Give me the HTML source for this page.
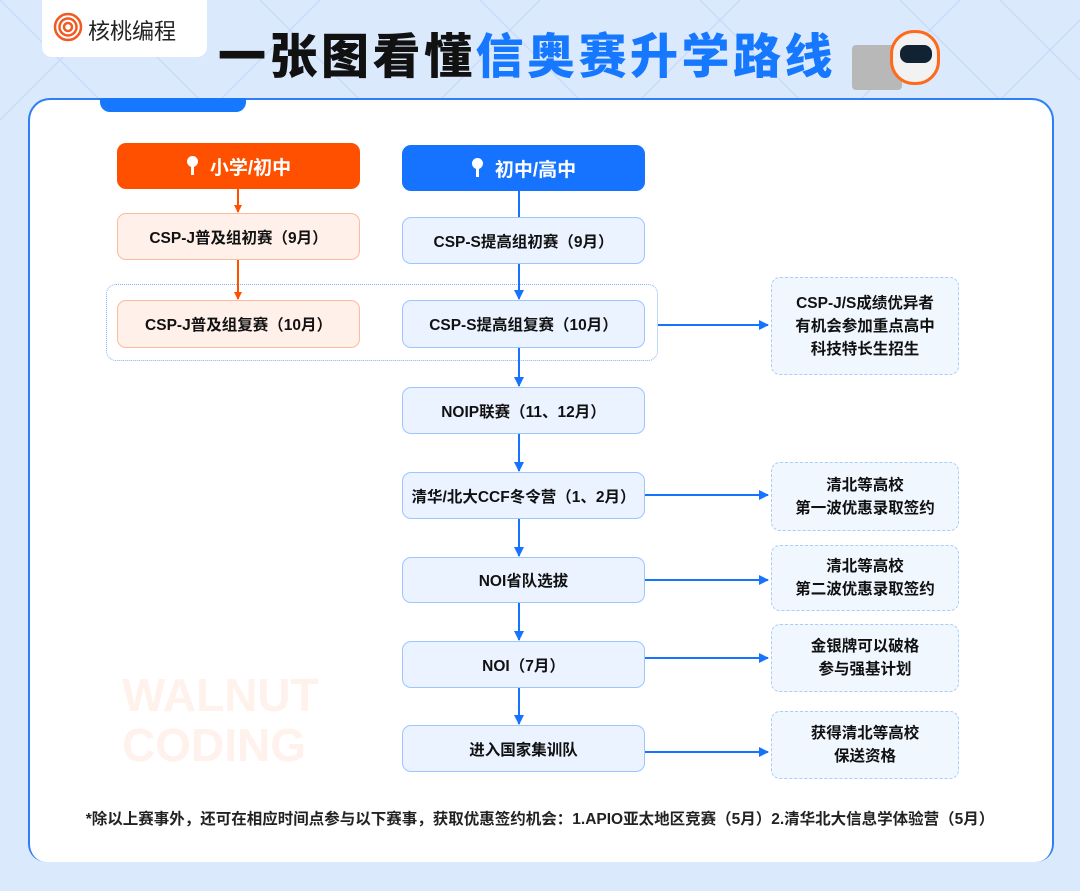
<!DOCTYPE html>
<html><head><meta charset="utf-8"><style>
*{margin:0;padding:0;box-sizing:border-box}
body{width:1080px;height:891px;background:#dbe9fd;position:relative;overflow:hidden;font-family:"Liberation Sans","Noto Sans CJK SC",sans-serif}
.a{position:absolute}
.box{position:absolute;display:flex;align-items:center;justify-content:center;text-align:center;font-weight:bold;font-size:15.5px;color:#111;border-radius:9px}
.o{background:#fff0ea;border:1.5px solid #ffb99c}
.b{background:#eaf3ff;border:1.5px solid #9cc6ff}
.r{background:#f1f7ff;border:1.5px dashed #a9cdf8;line-height:23px}
.hd{position:absolute;display:flex;align-items:center;justify-content:center;color:#fff;font-weight:bold;font-size:19px;border-radius:9px}
.pin{display:inline-block;width:12px;height:20px;margin-right:12px;position:relative}
.pin:before{content:"";position:absolute;left:1px;top:0;width:11px;height:11px;border-radius:50%;background:#fff}
.pin:after{content:"";position:absolute;left:5px;top:10px;width:3px;height:9px;background:#fff}
</style></head><body>
<svg class="a" style="left:0;top:0" width="1080" height="891">
<g stroke="#c9dcf7" stroke-width="1.5" fill="none">
<path d="M0 0L120 120M100 0L220 120M260 0L380 120M480 0L600 120M700 0L820 120M900 0L1020 120M1000 0L1080 80M0 120L120 0M200 120L320 0M420 120L540 0M620 120L740 0M840 120L960 0M980 120L1080 20"/>
</g></svg>
<div class="a" style="left:42px;top:0;width:165px;height:57px;background:#fff;border-radius:0 0 10px 10px"></div>
<svg class="a" style="left:53px;top:12px" width="30" height="30"><g fill="none" stroke="#f15a22" stroke-width="2.5"><circle cx="15" cy="15" r="13"/><circle cx="15" cy="15" r="8.5"/><circle cx="15" cy="15" r="4"/></g></svg>
<div class="a" style="left:88px;top:14px;font-size:22px;color:#222">核桃编程</div>
<div class="a" style="left:218px;top:28px;font-size:48px;font-weight:900;letter-spacing:3.5px;color:#111;line-height:60px;white-space:nowrap">一张图看懂<span style="color:#1677ff">信奥赛升学路线</span></div>
<div class="a" style="left:852px;top:45px;width:50px;height:45px;background:#b8b8b8;border-radius:4px"></div>
<div class="a" style="left:890px;top:30px;width:50px;height:55px;background:#f2f2f2;border-radius:24px;border:3px solid #ff6a1a"></div>
<div class="a" style="left:900px;top:45px;width:32px;height:18px;background:#123;border-radius:8px"></div>
<div class="a" style="left:28px;top:98px;width:1026px;height:764px;background:#fff;border:2px solid #2e7ff5;border-bottom:none;border-radius:22px 22px 18px 18px"></div>
<div class="a" style="left:100px;top:98px;width:146px;height:14px;background:#1677ff;border-radius:0 0 10px 10px"></div>
<div class="a" style="left:122px;top:670px;font-size:46px;font-weight:900;color:#fff1ec;line-height:50px">WALNUT<br>CODING</div>
<div class="a" style="left:106px;top:284px;width:552px;height:77px;border:1.5px dotted #7fb3f5;border-radius:10px"></div>
<div class="hd" style="left:117px;top:143px;width:243px;height:46px;background:#ff5000"><span class="pin"></span>小学/初中</div>
<div class="hd" style="left:402px;top:145px;width:243px;height:46px;background:#1673ff"><span class="pin"></span>初中/高中</div>
<div class="box o" style="left:117px;top:213px;width:243px;height:47px">CSP-J普及组初赛（9月）</div>
<div class="box o" style="left:117px;top:300px;width:243px;height:48px">CSP-J普及组复赛（10月）</div>
<div class="box b" style="left:402px;top:217px;width:243px;height:47px">CSP-S提高组初赛（9月）</div>
<div class="box b" style="left:402px;top:300px;width:243px;height:48px">CSP-S提高组复赛（10月）</div>
<div class="box b" style="left:402px;top:387px;width:243px;height:47px">NOIP联赛（11、12月）</div>
<div class="box b" style="left:402px;top:472px;width:243px;height:47px">清华/北大CCF冬令营（1、2月）</div>
<div class="box b" style="left:402px;top:557px;width:243px;height:46px">NOI省队选拔</div>
<div class="box b" style="left:402px;top:641px;width:243px;height:47px">NOI（7月）</div>
<div class="box b" style="left:402px;top:725px;width:243px;height:47px">进入国家集训队</div>
<div class="box r" style="left:771px;top:277px;width:188px;height:98px">CSP-J/S成绩优异者<br>有机会参加重点高中<br>科技特长生招生</div>
<div class="box r" style="left:771px;top:462px;width:188px;height:69px">清北等高校<br>第一波优惠录取签约</div>
<div class="box r" style="left:771px;top:545px;width:188px;height:66px">清北等高校<br>第二波优惠录取签约</div>
<div class="box r" style="left:771px;top:624px;width:188px;height:68px">金银牌可以破格<br>参与强基计划</div>
<div class="box r" style="left:771px;top:711px;width:188px;height:68px">获得清北等高校<br>保送资格</div>
<svg class="a" style="left:0;top:0" width="1080" height="891">
<defs><marker id="ao" markerWidth="8" markerHeight="8" refX="7" refY="4" orient="auto" markerUnits="userSpaceOnUse"><path d="M0 0L8 4L0 8Z" fill="#ff5000"/></marker>
<marker id="ab" markerWidth="10" markerHeight="10" refX="9" refY="5" orient="auto" markerUnits="userSpaceOnUse"><path d="M0 0L10 5L0 10Z" fill="#1673ff"/></marker></defs>
<g stroke="#ff5000" stroke-width="2" marker-end="url(#ao)"><path d="M238 189V212"/><path d="M238 260V299"/></g>
<g stroke="#1673ff" stroke-width="2"><path d="M519 191V217"/></g>
<g stroke="#1673ff" stroke-width="2" marker-end="url(#ab)">
<path d="M519 264V299"/><path d="M519 348V386"/><path d="M519 434V471"/><path d="M519 519V556"/><path d="M519 603V640"/><path d="M519 688V724"/>
<path d="M658 325H768"/><path d="M645 495H768"/><path d="M645 580H768"/><path d="M645 658H768"/><path d="M645 752H768"/></g></svg>
<div class="a" style="left:0;width:1080px;top:807px;text-align:center;font-size:15.5px;font-weight:bold;color:#222;white-space:nowrap">*除以上赛事外，还可在相应时间点参与以下赛事，获取优惠签约机会：1.APIO亚太地区竞赛（5月）2.清华北大信息学体验营（5月）</div>
</body></html>
